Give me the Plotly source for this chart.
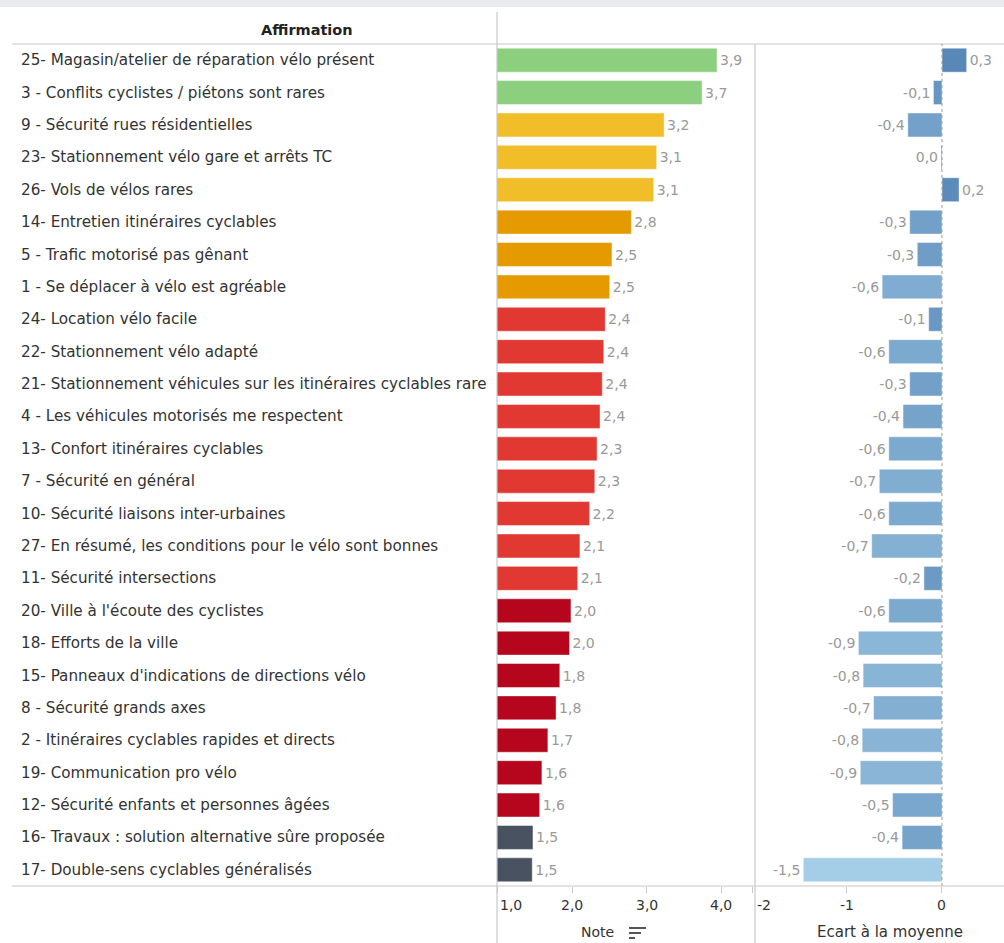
import plotly.graph_objects as go

# ---------------- data ----------------
affirmations = [
    "25- Magasin/atelier de réparation vélo présent",
    "3 - Conflits cyclistes / piétons sont rares",
    "9 - Sécurité rues résidentielles",
    "23- Stationnement vélo gare et arrêts TC",
    "26- Vols de vélos rares",
    "14- Entretien itinéraires cyclables",
    "5 - Trafic motorisé pas gênant",
    "1 - Se déplacer à vélo est agréable",
    "24- Location vélo facile",
    "22- Stationnement vélo adapté",
    "21- Stationnement véhicules sur les itinéraires cyclables rare",
    "4 - Les véhicules motorisés me respectent",
    "13- Confort itinéraires cyclables",
    "7 - Sécurité en général",
    "10- Sécurité liaisons inter-urbaines",
    "27- En résumé, les conditions pour le vélo sont bonnes",
    "11- Sécurité intersections",
    "20- Ville à l'écoute des cyclistes",
    "18- Efforts de la ville",
    "15- Panneaux d'indications de directions vélo",
    "8 - Sécurité grands axes",
    "2 - Itinéraires cyclables rapides et directs",
    "19- Communication pro vélo",
    "12- Sécurité enfants et personnes âgées",
    "16- Travaux : solution alternative sûre proposée",
    "17- Double-sens cyclables généralisés",
]
notes = [3.94, 3.74, 3.23, 3.13, 3.09, 2.79, 2.53, 2.50, 2.44, 2.42, 2.40, 2.37, 2.33,
         2.30, 2.23, 2.10, 2.07, 1.98, 1.96, 1.83, 1.78, 1.67, 1.59, 1.56, 1.47, 1.46]
ecarts = [0.26, -0.09, -0.36, -0.01, 0.18, -0.34, -0.26, -0.63, -0.14, -0.56, -0.34, -0.41,
          -0.56, -0.66, -0.56, -0.74, -0.19, -0.56, -0.88, -0.83, -0.72, -0.84, -0.86,
          -0.52, -0.42, -1.46]

note_ticks = [1, 2, 3, 4]
note_tick_labels = ["1,0", "2,0", "3,0", "4,0"]
ecart_ticks = [-2, -1, 0]
ecart_tick_labels = ["-2", "-1", "0"]

# colour thresholds for the note
thresholds = [(3.5, "#8ccf7e"), (3.0, "#f1bd28"), (2.5, "#e59a00"),
              (2.0, "#e23832"), (1.5, "#b5061d"), (-99, "#485260")]


def note_color(v):
    for t, c in thresholds:
        if v >= t:
            return c


def fmt(v):
    return f"{round(v, 1) + 0.0:.1f}".replace(".", ",")


W, H = 1004, 943


def px_y(p):
    return (H - p) / H


def px_x(p):
    return p / W


FONT = "DejaVu Sans, Verdana, sans-serif"
fig = go.Figure()

fig.add_trace(go.Bar(
    y=affirmations, x=notes, orientation="h",
    marker=dict(color=[note_color(v) for v in notes],
                line=dict(color="rgba(255,255,255,0.45)", width=1)),
    text=[fmt(v) for v in notes], textposition="outside",
    textfont=dict(family=FONT, size=14, color="#999999"),
    cliponaxis=False, xaxis="x", yaxis="y", hoverinfo="skip",
))
fig.add_trace(go.Bar(
    y=affirmations, x=ecarts, orientation="h",
    marker=dict(color=ecarts, colorscale=[[0, "#a6cfe9"], [1, "#5686b6"]],
                cmin=-1.5, cmax=0.3,
                line=dict(color="rgba(255,255,255,0.45)", width=1)),
    text=[fmt(v) for v in ecarts], textposition="outside",
    textfont=dict(family=FONT, size=14, color="#999999"),
    cliponaxis=False, xaxis="x2", yaxis="y", hoverinfo="skip",
))

y_dom = [px_y(886), px_y(44)]
fig.update_layout(
    width=W, height=H, margin=dict(l=0, r=0, t=0, b=0),
    paper_bgcolor="white", plot_bgcolor="white", showlegend=False,
    bargap=0.26,
    font=dict(family=FONT, size=14, color="#333333"),
    xaxis=dict(domain=[px_x(497), px_x(755)], range=[0.987, 4.45],
               showgrid=False, zeroline=False, showticklabels=False,
               tickvals=note_ticks, ticks="outside", ticklen=6, tickcolor="#c8c8c8",
               showline=False, fixedrange=True),
    xaxis2=dict(domain=[px_x(752), 1], range=[-2.0, 0.653],
                showgrid=False, zeroline=False, showticklabels=False,
                tickvals=ecart_ticks, ticks="outside", ticklen=6, tickcolor="#c8c8c8",
                showline=False, fixedrange=True),
    yaxis=dict(domain=y_dom, range=[25.5, -0.5], showticklabels=False,
               showgrid=False, zeroline=False, fixedrange=True),
)

line_c = "#c8c8c8"
shapes = [
    # top grey band
    dict(type="rect", xref="paper", yref="paper", x0=0, x1=1, y0=px_y(7), y1=1,
         fillcolor="#e9ebef", line=dict(width=0), layer="below"),
    # horizontal separators
    dict(type="line", xref="paper", yref="paper", x0=px_x(12), x1=1, y0=px_y(44), y1=px_y(44),
         line=dict(color=line_c, width=1.2)),
    dict(type="line", xref="paper", yref="paper", x0=px_x(12), x1=1, y0=px_y(886), y1=px_y(886),
         line=dict(color=line_c, width=1.2)),
    # vertical separators
    dict(type="line", xref="paper", yref="paper", x0=px_x(497), x1=px_x(497), y0=0, y1=px_y(12),
         line=dict(color=line_c, width=1.2)),
    dict(type="line", xref="paper", yref="paper", x0=px_x(755), x1=px_x(755), y0=0, y1=px_y(44),
         line=dict(color=line_c, width=1.2)),
    # zero line (dotted)
    dict(type="line", xref="x2", yref="paper", x0=0, x1=0, y0=px_y(886), y1=px_y(44),
         line=dict(color="#9a9a9a", width=1, dash="dot")),
]
# sort icon next to "Note"
for i, (a, b) in enumerate([(629, 646), (629, 641), (629, 635)]):
    yy = px_y(928 + i * 5)
    shapes.append(dict(type="line", xref="paper", yref="paper", x0=px_x(a), x1=px_x(b),
                       y0=yy, y1=yy, line=dict(color="#555555", width=2)))
fig.update_layout(shapes=shapes)

ann = []
ann.append(dict(text="<b>Affirmation</b>", xref="paper", yref="paper", x=px_x(307), y=px_y(30),
                xanchor="center", yanchor="middle", showarrow=False,
                font=dict(family=FONT, size=14.5, color="#222222")))
for a in affirmations:
    ann.append(dict(text=a, xref="paper", yref="y", x=px_x(19), y=a, xanchor="left",
                    yanchor="middle", showarrow=False,
                    font=dict(family=FONT, size=15.2, color="#333333")))
for i, (t, l) in enumerate(zip(note_ticks, note_tick_labels)):
    ann.append(dict(text=l, xref="x", yref="paper", x=t, y=px_y(905),
                    xanchor="left" if i == 0 else "center", yanchor="middle",
                    showarrow=False, font=dict(family=FONT, size=14, color="#333333")))
for i, (t, l) in enumerate(zip(ecart_ticks, ecart_tick_labels)):
    ann.append(dict(text=l, xref="x2", yref="paper", x=t, y=px_y(905),
                    xanchor="left" if i == 0 else "center", yanchor="middle",
                    xshift=3 if i == 0 else 0,
                    showarrow=False, font=dict(family=FONT, size=14, color="#333333")))
ann.append(dict(text="Note", xref="paper", yref="paper", x=px_x(597), y=px_y(932),
                xanchor="center", yanchor="middle", showarrow=False,
                font=dict(family=FONT, size=14, color="#333333")))
ann.append(dict(text="Ecart à la moyenne", xref="paper", yref="paper", x=px_x(890), y=px_y(932),
                xanchor="center", yanchor="middle", showarrow=False,
                font=dict(family=FONT, size=15, color="#333333")))
fig.update_layout(annotations=ann)

fig.write_html("out.html", config={"displayModeBar": False},
               post_script="document.body.style.margin='0px';")
